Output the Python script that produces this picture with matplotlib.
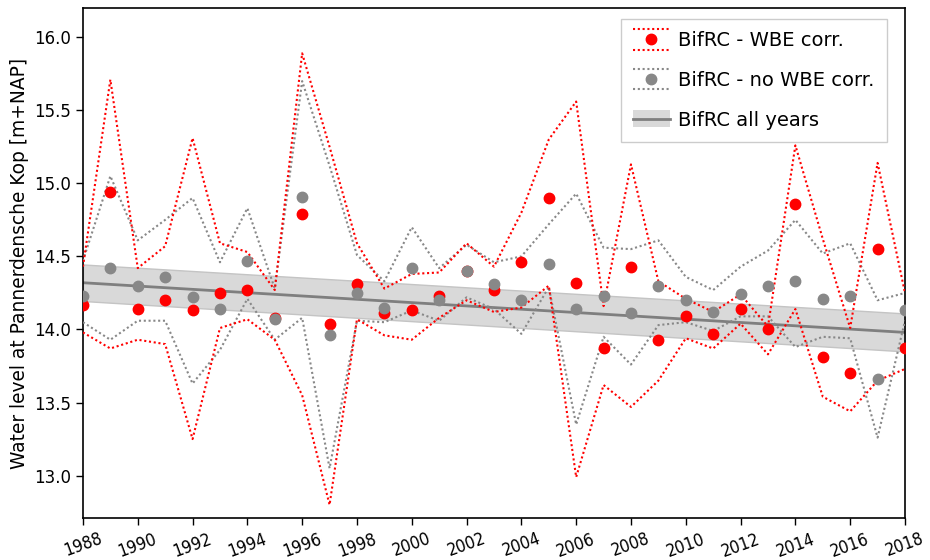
import matplotlib
matplotlib.use("Agg")
import matplotlib.pyplot as plt
import numpy as np
from matplotlib.lines import Line2D
from matplotlib.patches import Patch, Rectangle
from matplotlib.legend_handler import HandlerBase

years = list(range(1988, 2019))

# Yearly mean levels with bifurcation-corrected rating curve
wbe_corr = [14.17, 14.94, 14.14, 14.20, 14.13, 14.25, 14.27, 14.08, 14.79, 14.04,
            14.31, 14.11, 14.13, 14.23, 14.40, 14.27, 14.46, 14.90, 14.32, 13.87,
            14.43, 13.93, 14.09, 13.97, 14.14, 14.00, 14.86, 13.81, 13.70, 14.55,
            13.87]
wbe_upper = [14.43, 15.71, 14.42, 14.57, 15.31, 14.59, 14.53, 14.27, 15.89, 15.25,
             14.59, 14.28, 14.38, 14.39, 14.59, 14.43, 14.80, 15.30, 15.56, 14.16,
             15.13, 14.33, 14.21, 14.12, 14.24, 14.02, 15.26, 14.62, 14.01, 15.14,
             14.25]
wbe_lower = [13.98, 13.87, 13.93, 13.90, 13.25, 14.01, 14.07, 13.93, 13.55, 12.80,
             14.07, 13.96, 13.93, 14.08, 14.20, 14.12, 14.15, 14.30, 12.99, 13.62,
             13.47, 13.65, 13.94, 13.87, 14.04, 13.83, 14.14, 13.54, 13.44, 13.65,
             13.73]

# Same without the correction
no_corr = [14.23, 14.42, 14.30, 14.36, 14.22, 14.14, 14.47, 14.07, 14.91, 13.96,
           14.25, 14.15, 14.42, 14.20, 14.40, 14.31, 14.20, 14.45, 14.14, 14.23,
           14.11, 14.30, 14.20, 14.12, 14.24, 14.30, 14.33, 14.21, 14.23, 13.66,
           14.13]
no_corr_upper = [14.47, 15.05, 14.61, 14.75, 14.90, 14.46, 14.83, 14.28, 15.70, 15.12,
                 14.51, 14.33, 14.70, 14.42, 14.58, 14.46, 14.50, 14.72, 14.93, 14.56,
                 14.55, 14.61, 14.36, 14.27, 14.43, 14.54, 14.75, 14.52, 14.59, 14.20,
                 14.25]
no_corr_lower = [14.05, 13.93, 14.06, 14.06, 13.63, 13.86, 14.21, 13.93, 14.08, 13.05,
                 14.06, 14.05, 14.13, 14.06, 14.22, 14.14, 13.97, 14.29, 13.35, 13.95,
                 13.76, 14.03, 14.05, 13.99, 14.09, 14.09, 13.88, 13.95, 13.94, 13.26,
                 14.06]

# Trend over all years and its uncertainty band
trend_years = [1988, 2018]
trend_level = [14.32, 13.98]
trend_halfwidth = [0.125, 0.13]

xticks = list(range(1988, 2019, 2))
yticks = [13.0, 13.5, 14.0, 14.5, 15.0, 15.5, 16.0]

RED = "#ff0000"
GREY = "#888888"
BAND = "#d9d9d9"
TREND = "#7f7f7f"
DOTS = (0, (1, 1.3))
LW_DOT = 1.5


class DottedEnvelopeHandler(HandlerBase):
    """Legend key: a marker between two dotted lines."""

    def create_artists(self, legend, orig_handle, xdescent, ydescent,
                       width, height, fontsize, trans):
        c = orig_handle.get_color()
        yc = -ydescent + height / 2.0
        off = 0.52 * fontsize
        x0, x1 = -xdescent, -xdescent + width
        arts = []
        for yy in (yc + off, yc - off):
            arts.append(Line2D([x0, x1], [yy, yy], color=c, ls=DOTS,
                               lw=LW_DOT, transform=trans))
        arts.append(Line2D([(x0 + x1) / 2], [yc], color=c, marker="o",
                           ls="none", ms=orig_handle.get_markersize(),
                           transform=trans))
        return arts


class BandHandler(HandlerBase):
    """Legend key: shaded band with the trend line through it."""

    def create_artists(self, legend, orig_handle, xdescent, ydescent,
                       width, height, fontsize, trans):
        yc = -ydescent + height / 2.0
        h = 0.9 * fontsize
        x0 = -xdescent
        rect = Rectangle((x0, yc - h / 2), width, h, facecolor=BAND,
                         edgecolor="none", transform=trans)
        line = Line2D([x0, x0 + width], [yc, yc], color=TREND, lw=2,
                      transform=trans)
        return [rect, line]


fig = plt.figure(figsize=(9.3, 5.6), dpi=100)
ax = fig.add_axes([0.0892, 0.075, 0.8839, 0.9107])

# trend band
ty = np.array(trend_level)
hw = np.array(trend_halfwidth)
ax.fill_between(trend_years, ty - hw, ty + hw, color=BAND,
                edgecolor="#c4c4c4", lw=1.0, zorder=1)
ax.plot(trend_years, trend_level, color=TREND, lw=2, zorder=2)

# envelopes
ax.plot(years, no_corr_upper, color=GREY, ls=DOTS, lw=LW_DOT, zorder=3)
ax.plot(years, no_corr_lower, color=GREY, ls=DOTS, lw=LW_DOT, zorder=3)
ax.plot(years, wbe_upper, color=RED, ls=DOTS, lw=LW_DOT, zorder=3)
ax.plot(years, wbe_lower, color=RED, ls=DOTS, lw=LW_DOT, zorder=3)

# yearly points
ax.plot(years, wbe_corr, "o", color=RED, ms=7.5, zorder=4)
ax.plot(years, no_corr, "o", color=GREY, ms=7.5, zorder=5)

ax.set_xlim(1988, 2018)
ax.set_ylim(12.71, 16.2)
ax.set_xticks(xticks)
ax.set_xticklabels([str(t) for t in xticks], rotation=20, fontsize=12.5,
                   fontstretch="condensed")
ax.set_yticks(yticks)
ax.set_yticklabels([f"{t:.1f}" for t in yticks], fontsize=12)
ax.tick_params(direction="out", length=5, width=1)
ax.set_ylabel("Water level at Pannerdensche Kop [m+NAP]", fontsize=13.4)
for s in ax.spines.values():
    s.set_linewidth(1.2)

h_wbe = Line2D([], [], color=RED, ms=7.5)
h_no = Line2D([], [], color=GREY, ms=7.5)
h_trend = Patch(facecolor=BAND)
leg = ax.legend([h_wbe, h_no, h_trend],
                ["BifRC - WBE corr.", "BifRC - no WBE corr.", "BifRC all years"],
                handler_map={h_wbe: DottedEnvelopeHandler(),
                             h_no: DottedEnvelopeHandler(),
                             h_trend: BandHandler()},
                loc="upper right", bbox_to_anchor=(0.978, 0.978),
                borderaxespad=0, fontsize=14, handlelength=1.9,
                handletextpad=0.45, labelspacing=1.06, borderpad=0.62,
                fancybox=False, framealpha=1, edgecolor="#cccccc")

fig.savefig("out.png", dpi=100)
